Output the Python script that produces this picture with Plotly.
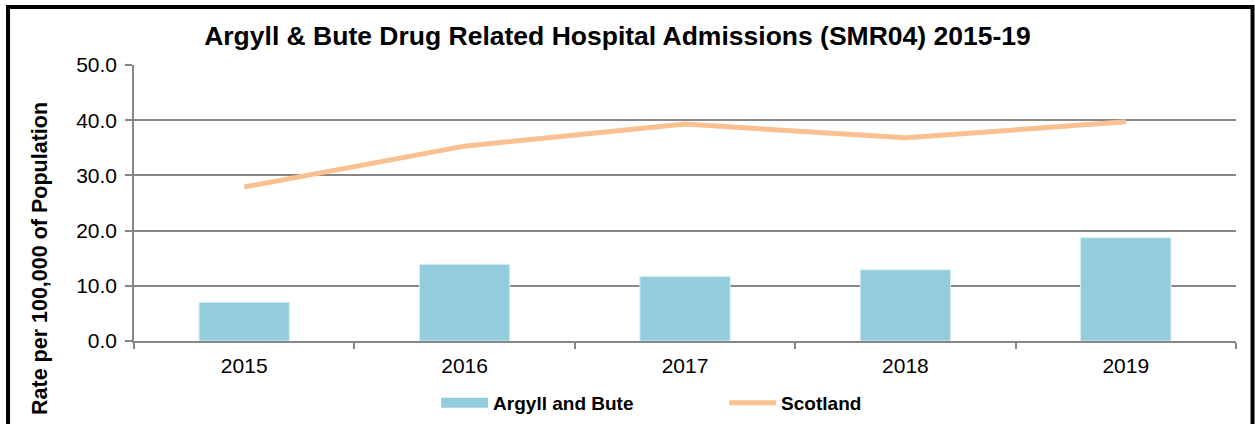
import plotly.graph_objects as go

# Data
years = ["2015", "2016", "2017", "2018", "2019"]
argyll_bute = [7.0, 13.9, 11.7, 12.9, 18.7]
scotland = [27.9, 35.3, 39.3, 36.8, 39.7]

BAR_COLOUR = "#93CDDD"
LINE_COLOUR = "#FAC090"
GRID = "#878787"
FONT = "Liberation Sans, Arial, sans-serif"

fig = go.Figure()
fig.add_trace(
    go.Bar(
        x=years,
        y=argyll_bute,
        name="Argyll and Bute",
        showlegend=False,
        legendgroup="ab",
        marker=dict(color=BAR_COLOUR, line=dict(color="#d8eef4", width=1)),
    )
)
# legend-only entry so the bar swatch is drawn as a wide block like the original
fig.add_trace(
    go.Scatter(
        x=[None],
        y=[None],
        mode="lines",
        name="Argyll and Bute",
        legendgroup="ab",
        line=dict(color=BAR_COLOUR, width=12),
        hoverinfo="skip",
    )
)
fig.add_trace(
    go.Scatter(
        x=years,
        y=scotland,
        mode="lines",
        name="Scotland",
        line=dict(color=LINE_COLOUR, width=5),
    )
)

# outer black frame of the chart
fig.add_shape(
    type="rect",
    xref="paper",
    yref="paper",
    x0=-0.1143,
    x1=1.0150,
    y0=-0.33,
    y1=1.2100,
    line=dict(color="black", width=4),
    fillcolor="rgba(0,0,0,0)",
    layer="above",
)

# y-axis title sits lower than the plot centre in the original, so place it by hand
fig.add_annotation(
    text="<b>Rate per 100,000 of Population</b>",
    xref="paper",
    yref="paper",
    x=-0.0853,
    y=0.3007,
    xanchor="center",
    yanchor="middle",
    textangle=-90,
    showarrow=False,
    font=dict(size=21.5, family=FONT, color="black"),
)

fig.update_layout(
    width=1255,
    height=424,
    margin=dict(l=134, r=19, t=65, b=83, autoexpand=False),
    paper_bgcolor="white",
    plot_bgcolor="white",
    font=dict(family=FONT, color="black", size=20),
    title=dict(
        text="<b>Argyll & Bute Drug Related Hospital Admissions (SMR04) 2015-19</b>",
        x=0.492,
        xanchor="center",
        xref="container",
        y=0.915,
        yanchor="middle",
        yref="container",
        font=dict(size=26.5, family=FONT, color="black"),
    ),
    bargap=0.59,
    showlegend=True,
    legend=dict(
        orientation="h",
        xref="container",
        yref="container",
        x=0.3475,
        xanchor="left",
        y=0.0495,
        yanchor="middle",
        font=dict(size=19, family=FONT, color="black", weight="bold"),
        itemwidth=47,
        entrywidth=226,
        bgcolor="rgba(0,0,0,0)",
    ),
)

fig.update_xaxes(
    type="category",
    automargin=False,
    showline=True,
    linecolor=GRID,
    linewidth=1.5,
    ticks="outside",
    tickson="boundaries",
    ticklen=6,
    tickcolor=GRID,
    tickwidth=1.5,
    ticklabelstandoff=5,
    showgrid=False,
    tickfont=dict(size=21, family=FONT, color="black"),
)
fig.update_yaxes(
    range=[0, 50],
    dtick=10,
    tickformat=".1f",
    automargin=False,
    showline=True,
    linecolor=GRID,
    linewidth=1.5,
    ticks="outside",
    ticklen=7,
    tickcolor=GRID,
    tickwidth=1.5,
    ticklabelstandoff=4,
    showgrid=True,
    gridcolor=GRID,
    gridwidth=1.5,
    zeroline=False,
    tickfont=dict(size=21, family=FONT, color="black"),
)

# drop the page's default body margin so the figure sits at the window origin
fig.write_html(
    "out.html",
    config={"displayModeBar": False},
    post_script="document.body.style.margin = '0';",
)
